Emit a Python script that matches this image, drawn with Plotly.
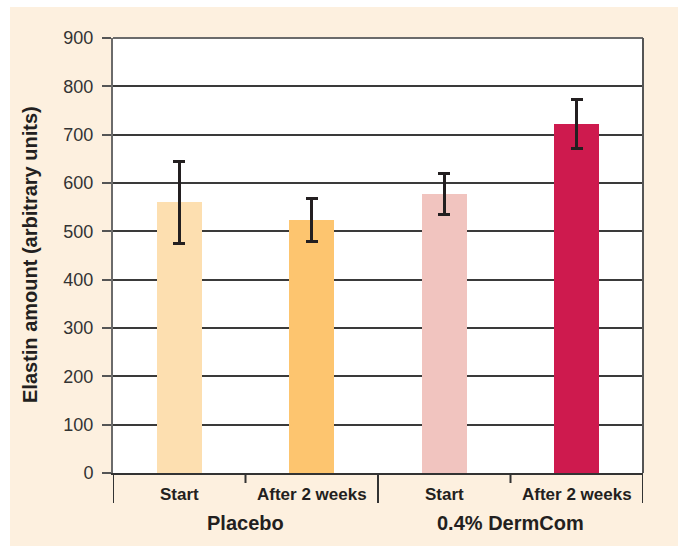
import plotly.graph_objects as go

categories = ["Start", "After 2 weeks", "Start", "After 2 weeks"]
groups = ["Placebo", "0.4% DermCom"]
values = [560, 523, 577, 722]
errors = [85, 44, 42, 51]
colors = ["#FDDFB0", "#FDC56F", "#F1C4BF", "#CE1A4E"]
yticks = [0, 100, 200, 300, 400, 500, 600, 700, 800, 900]

W, H = 678, 546
L, R, T, B = 113, 35, 38, 73
pw, ph = W - L - R, H - T - B

def px_x(x):  # page pixel -> paper
    return (x - L) / pw

def px_y(y):
    return (H - B - y) / ph

xs = list(range(len(values)))
FONT = "Liberation Sans Narrow, Arial Narrow, Arial"

fig = go.Figure()
fig.add_trace(go.Bar(
    x=xs, y=values, width=0.34,
    marker=dict(color=colors, line=dict(width=0)),
    error_y=dict(type="data", array=errors, visible=True,
                 color="#231f20", thickness=3, width=6),
    hoverinfo="skip",
))

shapes = []
# white strips at left and top (reference cream starts at x=10, y=7)
shapes.append(dict(type="rect", xref="paper", yref="paper", layer="below",
                   x0=px_x(-5), x1=px_x(10), y0=px_y(560), y1=px_y(-5),
                   fillcolor="white", line=dict(width=0)))
shapes.append(dict(type="rect", xref="paper", yref="paper", layer="below",
                   x0=px_x(-5), x1=px_x(690), y0=px_y(7), y1=px_y(-5),
                   fillcolor="white", line=dict(width=0)))
shapes.append(dict(type="line", xref="paper", yref="paper", x0=0, x1=1, y0=1, y1=1,
                   line=dict(color="#6b6b6b", width=2)))
shapes.append(dict(type="line", xref="paper", yref="paper", x0=1, x1=1, y0=0, y1=1,
                   line=dict(color="#555555", width=2)))
for i, b in enumerate([-0.5, 0.5, 1.5, 2.5, 3.5]):
    long_ = i % 2 == 0
    shapes.append(dict(type="line", xref="x", yref="paper", x0=b, x1=b,
                       y0=0, y1=px_y(503 if long_ else 483),
                       line=dict(color="#333333", width=2)))

annotations = []
for i, c in enumerate(categories):
    annotations.append(dict(x=i, y=px_y(494), xref="x", yref="paper", text=c,
                            showarrow=False, xanchor="center", yanchor="middle",
                            font=dict(family=FONT, size=17, color="#231f20", weight="bold")))
for g, center in zip(groups, [0.5, 2.5]):
    annotations.append(dict(x=center, y=px_y(523), xref="x", yref="paper", text=g,
                            showarrow=False, xanchor="center", yanchor="middle",
                            font=dict(family=FONT, size=20, color="#231f20", weight="bold")))
annotations.append(dict(x=px_x(30), y=px_y(255), xref="paper", yref="paper",
                        text="Elastin amount (arbitrary units)", textangle=-90,
                        showarrow=False, xanchor="center", yanchor="middle",
                        font=dict(family=FONT, size=20, color="#231f20", weight="bold")))

fig.update_layout(
    width=W, height=H,
    margin=dict(l=L, r=R, t=T, b=B, pad=0),
    paper_bgcolor="#FDF0DF",
    plot_bgcolor="white",
    showlegend=False,
    shapes=shapes,
    annotations=annotations,
    bargap=0,
    xaxis=dict(range=[-0.5, 3.5], showticklabels=False, ticks="", showgrid=False,
               zeroline=False, showline=True, linecolor="#333333", linewidth=2,
               fixedrange=True),
    yaxis=dict(range=[0, 900], tickvals=yticks, ticks="outside", ticklen=9,
               tickcolor="#555555", tickwidth=1.5, ticklabelstandoff=5,
               showgrid=True, gridcolor="#3a3a3a", gridwidth=1.5,
               zeroline=False, showline=True, linecolor="#6b6b6b", linewidth=2,
               tickfont=dict(family="Arial, Liberation Sans", size=18, color="#333333"),
               fixedrange=True),
)

fig.write_html("out.html",
               config={"displayModeBar": False},
               post_script=("document.body.style.margin='0';"
                            "document.body.style.overflow='hidden';"
                            "document.documentElement.style.overflow='hidden';"))
